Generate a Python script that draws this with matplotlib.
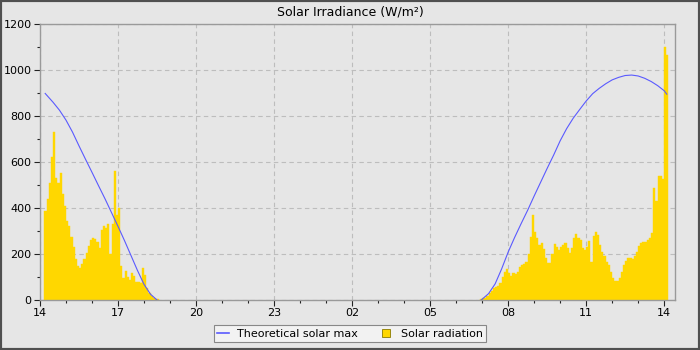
import matplotlib
matplotlib.use('Agg')
import matplotlib.pyplot as plt
import matplotlib.dates as mdates
from matplotlib.patches import Rectangle
from matplotlib.lines import Line2D
import pandas as pd

# measured radiation, 5 minute bins (W/m²)
rad_start_pm = "2024-06-01 14:10"
rad_pm = [385, 440, 510, 620, 730, 530, 510, 551, 460, 410,
          345, 320, 275, 230, 180, 148, 141, 155, 180, 205,
          235, 260, 268, 265, 254, 225, 304, 322, 312, 330,
          200, 330, 560, 370, 400, 150, 96, 128, 100, 87,
          117, 105, 80, 78, 72, 140, 109, 52, 30, 17,
          10, 6, 3]
rad_start_am = "2024-06-02 06:55"
rad_am = [3, 7, 10, 17, 29, 39, 51, 58, 60, 72,
          100, 123, 135, 116, 106, 116, 112, 123, 142, 152,
          156, 167, 200, 275, 370, 297, 268, 239, 246, 220,
          181, 159, 159, 200, 243, 232, 217, 232, 239, 246,
          225, 203, 225, 268, 287, 268, 261, 225, 217, 230,
          255, 167, 280, 295, 283, 239, 210, 191, 167, 152,
          123, 97, 84, 84, 94, 123, 152, 170, 184, 181,
          178, 190, 210, 235, 250, 253, 253, 261, 269, 290,
          485, 430, 540, 540, 527, 1100, 1065]

# theoretical clear-sky maximum
theo_pm_t = ["14:12", "14:30", "14:45", "15:00", "15:15", "15:30", "15:45", "16:00",
             "16:15", "16:30", "16:45", "17:00", "17:15", "17:30", "17:45", "18:00",
             "18:15", "18:30"]
theo_pm = [898, 860, 825, 782, 730, 670, 612, 555, 497, 440, 380, 320, 258, 193,
           128, 68, 25, 0]
theo_am_t = ["06:58", "07:15", "07:30", "07:45", "08:00", "08:15", "08:30", "08:45",
             "09:00", "09:15", "09:30", "09:45", "10:00", "10:15", "10:30", "10:45",
             "11:00", "11:15", "11:30", "11:45", "12:00", "12:15", "12:30", "12:45",
             "13:00", "13:15", "13:30", "13:45", "14:00", "14:06"]
theo_am = [0, 28, 70, 135, 208, 272, 332, 390, 452, 512, 572, 630, 692, 745, 790,
           828, 865, 897, 920, 940, 957, 968, 976, 978, 974, 964, 950, 932, 910, 895]

BG = '#e6e6e6'
GOLD = '#ffd700'
BLUE = '#5a5aff'

t_pm = pd.date_range(rad_start_pm, periods=len(rad_pm), freq='5min')
t_am = pd.date_range(rad_start_am, periods=len(rad_am), freq='5min')
tt_pm = pd.to_datetime(["2024-06-01 " + s for s in theo_pm_t])
tt_am = pd.to_datetime(["2024-06-02 " + s for s in theo_am_t])

fig = plt.figure(figsize=(7, 3.5), dpi=100, facecolor=BG)
ax = fig.add_axes([40/700, 1 - 300/350, 635/700, 276/350], facecolor=BG)

w = 5 / 1440
for t, v in ((t_pm, rad_pm), (t_am, rad_am)):
    ax.bar(t, v, width=w, align='edge', color=GOLD, edgecolor=GOLD, linewidth=0.3, zorder=2)
ax.plot(tt_pm, theo_pm, color=BLUE, linewidth=0.8, zorder=3)
ax.plot(tt_am, theo_am, color=BLUE, linewidth=0.8, zorder=3)

ax.set_xlim(pd.Timestamp("2024-06-01 14:00"), pd.Timestamp("2024-06-02 14:25"))
ax.set_ylim(0, 1200)
ax.set_yticks(range(0, 1201, 200))
ax.set_yticks(range(100, 1200, 200), minor=True)
ax.xaxis.set_major_locator(mdates.HourLocator(byhour=range(2, 24, 3)))
ax.xaxis.set_minor_locator(mdates.HourLocator())
ax.xaxis.set_major_formatter(mdates.DateFormatter('%H'))

ax.grid(True, which='major', color='#bdbdbd', linestyle=(0, (4, 3)), linewidth=0.8, zorder=0)
ax.set_axisbelow(True)
for s in ax.spines.values():
    s.set_color('#9a9a9a')
    s.set_linewidth(1.0)
ax.tick_params(which='major', length=4, width=0.8, color='#222222', labelsize=8, pad=2)
ax.tick_params(which='minor', length=2.5, width=0.8, color='#222222')

fig.text(0.5, 1 - 12/350, 'Solar Irradiance (W/m²)', ha='center', va='center', fontsize=9)

handles = [Line2D([], [], color=BLUE, linewidth=1.2),
           Line2D([], [], marker='s', linestyle='none', markersize=6,
                  markerfacecolor=GOLD, markeredgecolor='#8a7a00', markeredgewidth=0.6)]
leg = fig.legend(handles, ['Theoretical solar max', 'Solar radiation'], ncol=2,
                 loc='lower center', bbox_to_anchor=(0.5, 2/350), fontsize=8,
                 frameon=True, fancybox=False, edgecolor='#888888', framealpha=1,
                 handlelength=1.0, columnspacing=2.0, borderpad=0.35, handletextpad=0.8)
leg.get_frame().set_facecolor('#f2f2f2')
leg.get_frame().set_linewidth(0.8)

fig.patches.append(Rectangle((0, 0), 1, 1, transform=fig.transFigure, fill=False,
                             edgecolor='#505050', linewidth=3, zorder=10))

fig.savefig('out.png', dpi=100, facecolor=BG)
